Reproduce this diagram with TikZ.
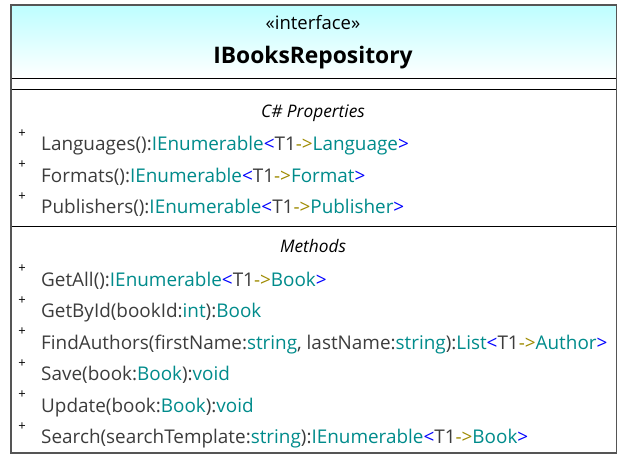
\documentclass[tikz,border=0pt]{standalone}
\usepackage{fontspec}
\setmainfont{Open Sans}
\definecolor{txt}{HTML}{3C3C3C}
\definecolor{tyc}{HTML}{008B8B}
\definecolor{brc}{HTML}{0000FF}
\definecolor{arc}{HTML}{9E8A00}
\definecolor{hdrtop}{HTML}{BDFEFF}
\definecolor{border}{HTML}{555555}
\newcommand{\ty}[1]{\textcolor{tyc}{#1}}
\newcommand{\gen}[1]{\textcolor{brc}{<}T1\textcolor{arc}{->}\ty{#1}\textcolor{brc}{>}}
\begin{document}
\begin{tikzpicture}[x=1pt,y=-1pt,
  member/.style={anchor=base west, inner sep=0pt, text=txt, font=\fontsize{18.9}{22}\selectfont},
  vis/.style={anchor=base, inner sep=0pt, text=black, font=\fontsize{13}{15}\selectfont},
  sectitle/.style={anchor=base, inner sep=0pt, text=black, font=\fontsize{17.3}{20}\selectfont\itshape},
  sepline/.style={draw=black, line width=0.9pt}]
\useasboundingbox (0,0) rectangle (627,458);
\shade[top color=hdrtop, bottom color=white] (11,5) rectangle (616.5,78);
\draw[sepline] (11,78) -- (616.5,78);
\draw[sepline] (11,89) -- (616.5,89);
\draw[sepline] (11,226) -- (616.5,226);
\draw[draw=border, line width=1.5pt] (11,5) rectangle (616.5,453);

\node[anchor=base, inner sep=0pt, text=black, font=\fontsize{18.5}{22}\selectfont] (stereo) at (313,29) {«interface»};
\node[anchor=base, inner sep=0pt, text=black, font=\fontsize{22.8}{27}\selectfont\bfseries] (name) at (313,63) {IBooksRepository};

\node[sectitle] (props) at (313,117) {C\# Properties};
\node[vis] (p1v) at (22,137) {+};
\node[member] (p1) at (41,150.5) {Languages():\ty{IEnumerable}\gen{Language}};
\node[vis] (p2v) at (22,168.5) {+};
\node[member] (p2) at (41,182) {Formats():\ty{IEnumerable}\gen{Format}};
\node[vis] (p3v) at (22,200) {+};
\node[member] (p3) at (41,213.5) {Publishers():\ty{IEnumerable}\gen{Publisher}};

\node[sectitle] (meth) at (313,252) {Methods};
\node[vis] (m1v) at (22,272.5) {+};
\node[member] (m1) at (41,286) {GetAll():\ty{IEnumerable}\gen{Book}};
\node[vis] (m2v) at (22,304) {+};
\node[member] (m2) at (41,317.5) {GetById(bookId:\ty{int}):\ty{Book}};
\node[vis] (m3v) at (22,335.5) {+};
\node[member] (m3) at (41,349) {FindAuthors(firstName:\ty{string}, lastName:\ty{string}):\ty{List}\gen{Author}};
\node[vis] (m4v) at (22,367) {+};
\node[member] (m4) at (41,380.5) {Save(book:\ty{Book}):\ty{void}};
\node[vis] (m5v) at (22,398.5) {+};
\node[member] (m5) at (41,412) {Update(book:\ty{Book}):\ty{void}};
\node[vis] (m6v) at (22,430) {+};
\node[member] (m6) at (41,443.5) {Search(searchTemplate:\ty{string}):\ty{IEnumerable}\gen{Book}};
\end{tikzpicture}
\end{document}
